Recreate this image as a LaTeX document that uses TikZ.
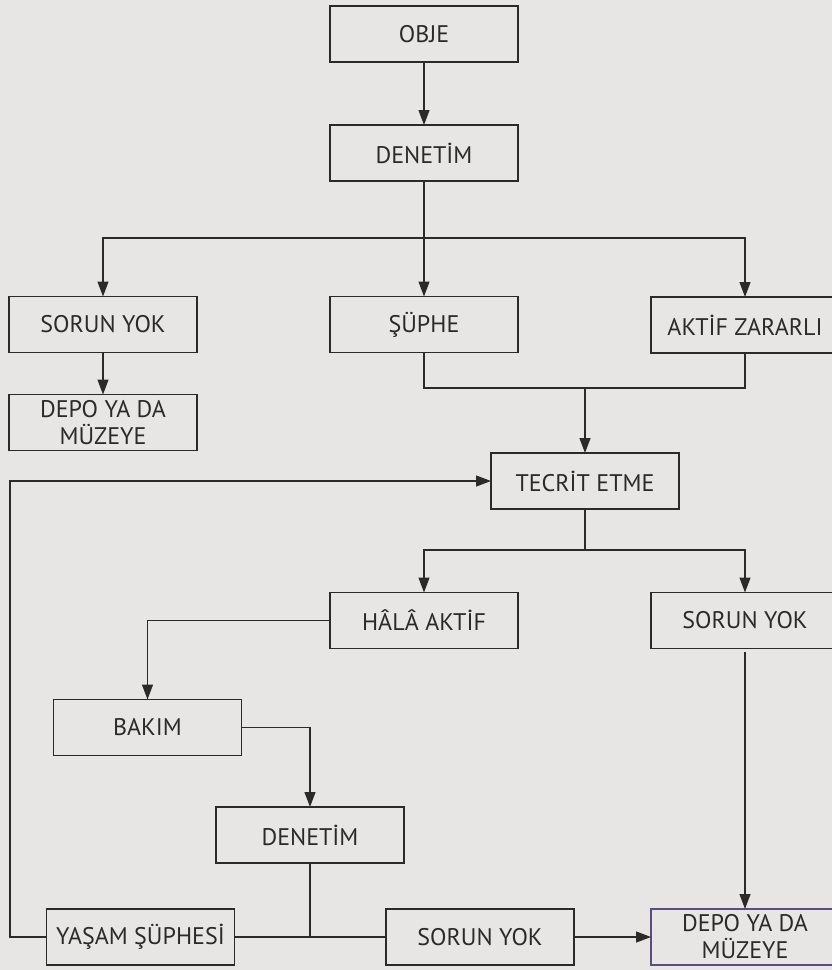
\documentclass[tikz,border=0pt]{standalone}
\usepackage{fontspec}
\setmainfont{PT Sans}
\usetikzlibrary{arrows.meta}

\definecolor{bggray}{HTML}{E7E6E4}
\definecolor{inkgray}{HTML}{2B2A29}
\definecolor{boxpurple}{HTML}{5B4E7E}

\tikzset{
	box/.style={draw=inkgray,line width=1.2pt,minimum width=188pt,minimum height=56pt,inner sep=0,outer sep=0,align=center,text=inkgray,font=\fontsize{24}{27}\selectfont},
	arr/.style={-{Triangle[length=15pt,width=11pt]}},
}

\begin{document}
\begin{tikzpicture}[x=1pt,y=-1pt,line width=1.2pt,draw=inkgray,color=inkgray]
	\fill[bggray] (0,0) rectangle (832,970);
	\useasboundingbox (0,0) rectangle (832,970);
	\node[box] (obje) at (424,34) {OBJE};
	\node[box] (denetim1) at (424,153) {DENETİM};
	\node[box] (sorun1) at (103,324.5) {SORUN YOK};
	\node[box] (suphe) at (424,324.5) {ŞÜPHE};
	\node[box] (aktif) at (745,325) {AKTİF ZARARLI};
	\node[box] (depo1) at (103,422.5) {DEPO YA DA\\MÜZEYE};
	\node[box] (tecrit) at (585,481) {TECRİT ETME};
	\node[box] (hala) at (424,620.5) {HÂLÂ AKTİF};
	\node[box] (sorun2) at (745,620.5) {SORUN YOK};
	\node[box] (bakim) at (147.5,727.5) {BAKIM};
	\node[box] (denetim2) at (310,835) {DENETİM};
	\node[box] (yasam) at (140.5,937) {YAŞAM ŞÜPHESİ};
	\node[box] (sorun3) at (480,937) {SORUN YOK};
	\node[box,draw=boxpurple] (depo2) at (745,937) {DEPO YA DA\\MÜZEYE};
	\coordinate (split1) at (424,238);
	\coordinate (join1) at (585,388);
	\coordinate (split2) at (585,550);
	\coordinate (loop) at (10,937);
	\coordinate (join2) at (310,937);
	\draw[arr] (obje) -- (denetim1);
	\draw (denetim1) -- (split1);
	\draw[arr] (split1) -| (sorun1);
	\draw[arr] (split1) -- (suphe);
	\draw[arr] (split1) -| (aktif);
	\draw[arr] (sorun1) -- (depo1);
	\draw (suphe) |- (join1) -| (aktif);
	\draw[arr] (join1) -- (tecrit);
	\draw[arr] (yasam) -- (loop) |- (tecrit);
	\draw (tecrit) -- (split2);
	\draw[arr] (split2) -| (hala);
	\draw[arr] (split2) -| (sorun2);
	\draw[arr] (hala) -| (bakim);
	\draw[arr] (bakim) -| (denetim2);
	\draw (denetim2) -- (join2);
	\draw (yasam) -- (sorun3);
	\draw[arr] (sorun3) -- (depo2);
	\draw[arr,shorten <=3pt] (sorun2) -- (depo2);
\end{tikzpicture}
\end{document}
